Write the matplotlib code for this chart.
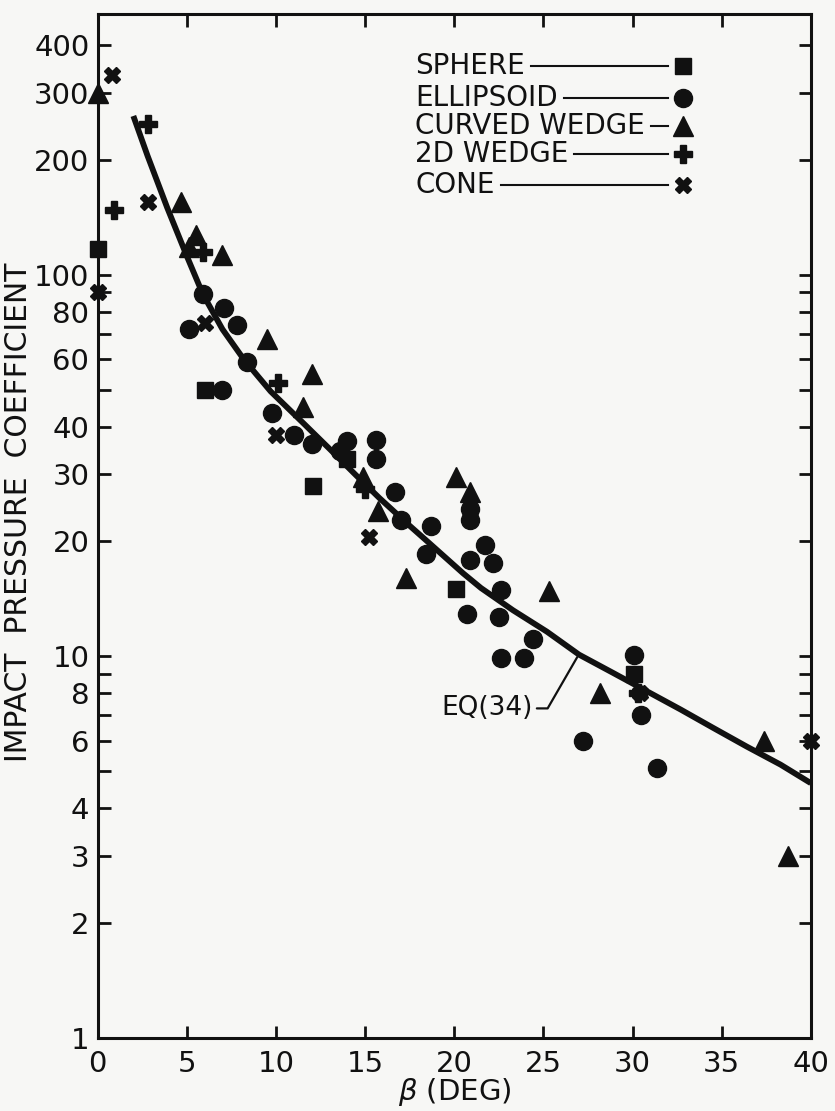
import matplotlib.pyplot as plt
from matplotlib.ticker import FixedLocator, NullFormatter

plt.rcParams["font.family"] = ["DejaVu Sans"]

# EQ(34) curve
eq_x = [2.0, 2.8, 3.9, 5.0, 5.9, 7.0, 8.2, 9.7, 11.5, 13.0, 14.5, 15.8, 17.4,
        18.6, 20.5, 21.5, 23.3, 25.2, 27.0, 28.9, 30.8, 32.7, 34.5, 36.4, 38.3, 40.0]
eq_y = [261, 205, 150, 112, 89, 72, 60, 49.5, 41, 35, 29.8, 26, 22.2, 19.8, 16.5,
        15.1, 13.2, 11.6, 10.1, 9.05, 8.1, 7.25, 6.5, 5.8, 5.2, 4.65]

# test data
sphere_x = [0.0, 6.0, 12.1, 14.0, 20.1, 30.1]
sphere_y = [117, 50, 28, 33, 15, 9.0]

ellipsoid_x = [5.1, 5.9, 7.1, 7.8, 8.4, 7.0, 9.8, 11.0, 12.0, 13.6, 14.0, 15.6, 15.6,
               16.7, 17.0, 18.7, 18.4, 20.9, 20.9, 21.7, 20.9, 22.2, 22.6, 20.7, 22.5,
               24.4, 22.6, 23.9, 30.1, 30.5, 27.2, 31.4]
ellipsoid_y = [72, 89, 82, 74, 59, 50, 43.5, 38, 36, 34.5, 36.6, 37, 33,
               27, 22.7, 22, 18.5, 24.4, 22.7, 19.6, 17.9, 17.6, 14.9, 12.9, 12.7,
               11.1, 9.9, 9.9, 10.1, 7.0, 6.0, 5.1]

curved_wedge_x = [0.0, 4.7, 5.5, 5.1, 7.0, 9.5, 12.0, 11.5, 14.9, 15.7, 17.3,
                  20.1, 20.9, 25.3, 28.2, 37.4, 38.7]
curved_wedge_y = [300, 155, 127, 118, 113, 68, 55, 45, 29.5, 24, 16,
                  29.5, 27, 14.8, 8.0, 6.0, 3.0]

wedge_2d_x = [0.9, 2.8, 5.9, 10.1, 15.0, 30.3]
wedge_2d_y = [148, 248, 115, 52, 27.5, 8.0]

cone_x = [0.8, 2.8, 0.0, 6.0, 10.0, 15.2, 30.4, 40.0]
cone_y = [335, 155, 90, 75, 38, 20.5, 8.0, 6.0]

y_labeled = [1, 2, 3, 4, 6, 8, 10, 20, 30, 40, 60, 80, 100, 200, 300, 400]
y_minor = [5, 7, 9, 50, 70, 90]
x_ticks = [0, 5, 10, 15, 20, 25, 30, 35, 40]

ink = "#111111"
paper = "#f7f7f5"

fig = plt.figure(figsize=(8.35, 11.11), dpi=100)
fig.patch.set_facecolor(paper)
ax = fig.add_axes([0.117, 0.066, 0.854, 0.9217])
ax.set_facecolor(paper)
ax.set_yscale("log")
ax.set_xlim(0, 40)
ax.set_ylim(1, 484)

ax.plot(eq_x, eq_y, color=ink, lw=4.2, solid_capstyle="butt",
        solid_joinstyle="round", zorder=2)

ax.plot(sphere_x, sphere_y, "s", ms=11, color=ink, clip_on=False, zorder=3)
ax.plot(ellipsoid_x, ellipsoid_y, "o", ms=13, color=ink, clip_on=False, zorder=3)
ax.plot(curved_wedge_x, curved_wedge_y, "^", ms=15, color=ink, clip_on=False, zorder=3)
ax.plot(wedge_2d_x, wedge_2d_y, "P", ms=13, color=ink, clip_on=False, zorder=3)
ax.plot(cone_x, cone_y, "X", ms=12, color=ink, clip_on=False, zorder=3)

# axes styling
for s in ax.spines.values():
    s.set_linewidth(2.2)
    s.set_color(ink)
ax.xaxis.set_major_locator(FixedLocator(x_ticks))
ax.set_xticklabels([str(v) for v in x_ticks])
ax.yaxis.set_major_locator(FixedLocator(y_labeled))
ax.yaxis.set_minor_locator(FixedLocator(y_minor))
ax.yaxis.set_minor_formatter(NullFormatter())
ax.set_yticklabels([str(v) for v in y_labeled])
ax.xaxis.set_minor_locator(FixedLocator([]))
ax.tick_params(which="both", direction="in", length=9, width=2, color=ink,
               top=True, right=True, labelsize=21, labelcolor=ink)
ax.tick_params(axis="x", pad=9)
ax.tick_params(axis="y", pad=6)

fig.text(19 / 835, 1 - 512 / 1111, "IMPACT  PRESSURE  COEFFICIENT", rotation=90,
         ha="center", va="center", fontsize=21.5, color=ink)
fig.text(455 / 835, 1 - 1092 / 1111, r"$\beta$ (DEG)", ha="center", va="center",
         fontsize=21, color=ink)

# EQ(34) label
ax.annotate("EQ(34)", xy=(26.9, 9.95), xytext=(24.4, 7.3), ha="right", va="center",
            fontsize=19, color=ink,
            arrowprops=dict(arrowstyle="-", color=ink, lw=1.6, shrinkA=1, shrinkB=0,
                            connectionstyle="angle,angleA=0,angleB=60,rad=0"))

# legend drawn as in the original: name, a rule, then the symbol
names = ["SPHERE", "ELLIPSOID", "CURVED WEDGE", "2D WEDGE", "CONE"]
marks = [("s", 11), ("o", 13), ("^", 15), ("P", 13), ("X", 12)]
rows = [0.949, 0.918, 0.890, 0.863, 0.833]
texts = []
for name, yy in zip(names, rows):
    texts.append(ax.text(0.445, yy, name, transform=ax.transAxes, ha="left",
                         va="center", fontsize=20, color=ink))
fig.canvas.draw()
renderer = fig.canvas.get_renderer()
for t, (m, size), yy in zip(texts, marks, rows):
    bb = t.get_window_extent(renderer)
    x0 = ax.transAxes.inverted().transform((bb.x1 + 6, 0))[0]
    ax.plot([x0, 0.80], [yy, yy], color=ink, lw=1.5, transform=ax.transAxes)
    ax.plot([0.821], [yy], m, ms=size, color=ink, transform=ax.transAxes,
            clip_on=False)

fig.savefig("out.png", dpi=100, facecolor=paper)
